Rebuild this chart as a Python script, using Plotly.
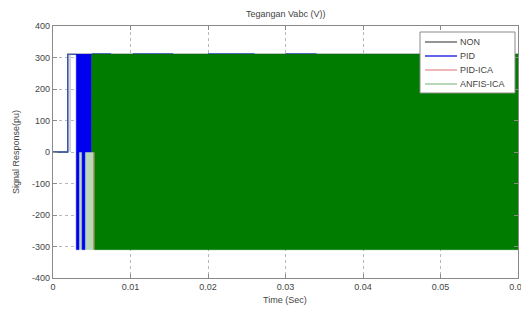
import plotly.graph_objects as go

# ---- data ----
x_ticks = [0, 0.01, 0.02, 0.03, 0.04, 0.05, 0.06]
x_tick_labels = ["0", "0.01", "0.02", "0.03", "0.04", "0.05", "0.06"]
y_ticks = [-400, -300, -200, -100, 0, 100, 200, 300, 400]
y_tick_labels = ["-400", "-300", "-200", "-100", "0", "100", "200", "300", "400"]

series_names = ["NON", "PID", "PID-ICA", "ANFIS-ICA"]

# NON: step waveform
non_t = [0, 0.0019, 0.0019, 0.06]
non_v = [0, 0, 310, 310]

# PID: step then dense switching bursts
pid_t = [0, 0.0019, 0.0019, 0.0030]
pid_v = [0, 0, 310, 310]
pid_t2 = [0.0022, 0.0022]
pid_v2 = [310, 0]
# dense-switching bands: (t_start, t_end, low, high)
pid_bands = [(0.0030, 0.0050, 0, 310),
             (0.0030, 0.00335, -310, 0),
             (0.00375, 0.00412, -310, 0)]
pid_top_t = [0.0050, 0.0075, None, 0.0103, 0.0155, None, 0.0200, 0.0260, None, 0.0300, 0.0340]
pid_top_v = [312, 312, None, 312, 312, None, 312, 312, None, 312, 312]

# PID-ICA: edge of switching region
pidica_t = [0.0053, 0.0053]
pidica_v = [0, -310]

# ANFIS-ICA: dense switching (envelope bands)
anfis_light_bands = [(0.00335, 0.00375, -310, 0),
                     (0.00412, 0.0053, -310, 0)]
anfis_bands = [(0.0050, 0.06, 0, 310),
               (0.0054, 0.06, -310, 0)]

legend_colors = ["#707070", "#3030e0", "#e8a0a0", "#a0c8a0"]

FONT = "Liberation Sans, Arial"
TXT = "#444"

# page body has an 8px margin: work in reference pixels, shift by OFF
OFF = 8
FW, FH = 529 - OFF, 314 - OFF
L, R, T, B = 53 - OFF, 518 - OFF, 26 - OFF, 278 - OFF
W, H = R - L, B - T
def px(x): return (x - OFF - L) / W
def py(y): return (B - (y - OFF)) / H

fig = go.Figure()

def add_band(b, color):
    t0, t1, lo, hi = b
    fig.add_trace(go.Scatter(x=[t0, t1, t1, t0, t0], y=[lo, lo, hi, hi, lo],
                             mode="lines", fill="toself", fillcolor=color,
                             line=dict(color=color, width=0.5),
                             showlegend=False, hoverinfo="skip"))

fig.add_trace(go.Scatter(x=non_t, y=non_v, mode="lines", name="NON",
                         line=dict(color="#303030", width=1.2), showlegend=False))
fig.add_trace(go.Scatter(x=pid_t, y=pid_v, mode="lines", name="PID",
                         line=dict(color="#3a5aa8", width=1.3), showlegend=False))
fig.add_trace(go.Scatter(x=pid_t2, y=pid_v2, mode="lines", showlegend=False,
                         line=dict(color="#8898c8", width=0.8), hoverinfo="skip"))
for b in anfis_light_bands:
    add_band(b, "#b8d8b8")
for b in pid_bands:
    add_band(b, "#0000f0")
fig.add_trace(go.Scatter(x=pid_top_t, y=pid_top_v, mode="lines", showlegend=False,
                         line=dict(color="#3050c0", width=1), hoverinfo="skip"))
fig.add_trace(go.Scatter(x=pidica_t, y=pidica_v, mode="lines", name="PID-ICA",
                         line=dict(color="#a06a30", width=1.2), showlegend=False))
for b in anfis_bands:
    add_band(b, "#007d00")

# manual MATLAB-style legend
fig.add_shape(type="rect", xref="paper", yref="paper",
              x0=px(420), x1=px(515), y0=py(93), y1=py(32),
              line=dict(color="#8a8a8a", width=1), fillcolor="white", layer="above")
row_y = [42, 56, 70, 84]
for name, col, ry in zip(series_names, legend_colors, row_y):
    fig.add_shape(type="line", xref="paper", yref="paper",
                  x0=px(425), x1=px(457), y0=py(ry), y1=py(ry),
                  line=dict(color=col, width=1.5), layer="above")
    fig.add_annotation(text=name, xref="paper", yref="paper", x=px(458), y=py(ry),
                       xanchor="left", yanchor="middle", showarrow=False,
                       font=dict(family=FONT, size=9, color=TXT))

# title and axis titles as positioned texts
fig.add_annotation(text="Tegangan Vabc (V))", xref="paper", yref="paper",
                   x=px(285), y=py(14), xanchor="center", yanchor="middle",
                   showarrow=False, font=dict(family=FONT, size=9, color=TXT))
fig.add_annotation(text="Time (Sec)", xref="paper", yref="paper",
                   x=px(285), y=py(300), xanchor="center", yanchor="middle",
                   showarrow=False, font=dict(family=FONT, size=9, color=TXT))
fig.add_annotation(text="Signal Response(pu)", xref="paper", yref="paper",
                   x=px(16), y=py(152), xanchor="center", yanchor="middle", textangle=-90,
                   showarrow=False, font=dict(family=FONT, size=9, color=TXT))

axis_common = dict(showgrid=True, gridcolor="#b8b8b8", griddash="dot", gridwidth=1,
                   zeroline=False, showline=True, linecolor="#8a8a8a", linewidth=1.2,
                   mirror="ticks", ticks="inside", ticklen=4, tickcolor="#8a8a8a",
                   automargin=False,
                   tickfont=dict(family=FONT, size=9, color=TXT))

fig.update_layout(
    width=FW, height=FH,
    paper_bgcolor="white", plot_bgcolor="white",
    margin=dict(l=L, r=FW - R, t=T, b=FH - B),
    xaxis=dict(range=[0, 0.06], tickvals=x_ticks, ticktext=x_tick_labels, **axis_common),
    yaxis=dict(range=[-400, 400], tickvals=y_ticks, ticktext=y_tick_labels, **axis_common),
    showlegend=False,
)

fig.write_html("out.html")
